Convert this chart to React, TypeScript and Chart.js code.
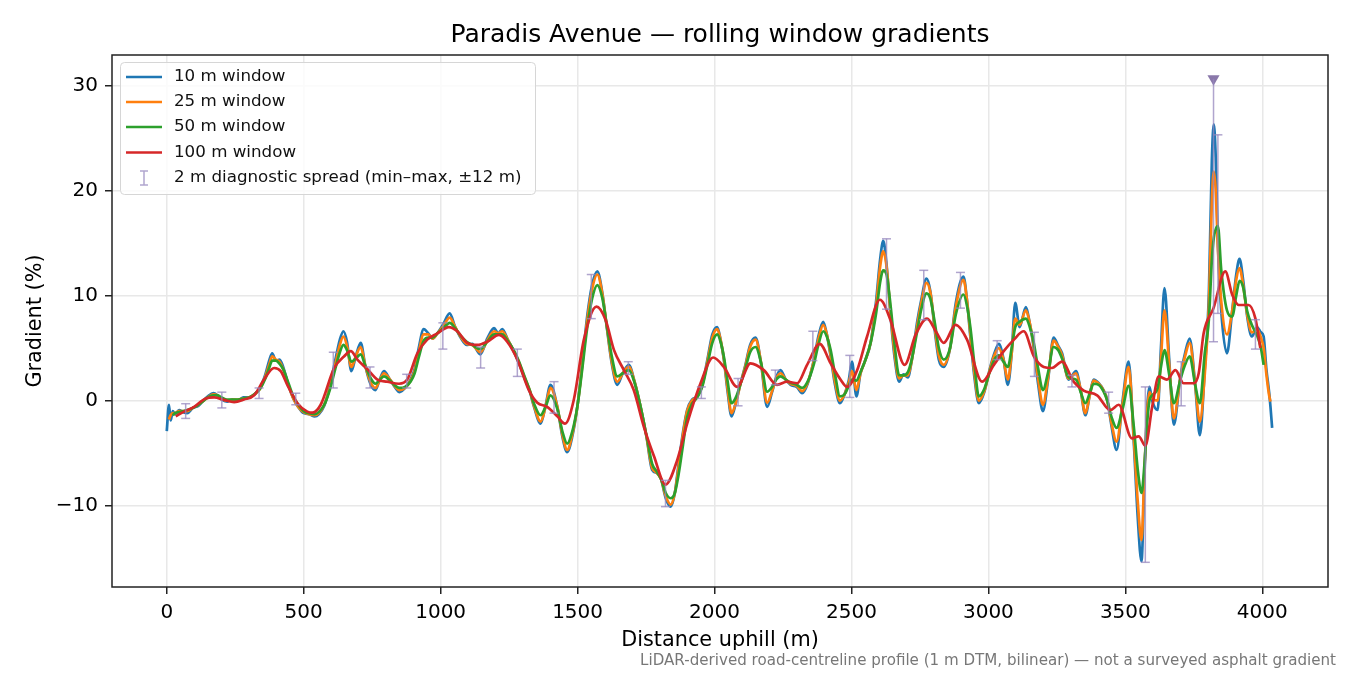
import { useEffect, useRef } from "react";
import { Chart, registerables } from "chart.js";

Chart.register(...registerables);

// distance uphill (m) shared by the 10 / 25 / 50 m windows
const DIST = [
  0, 8, 14, 22, 30, 45, 60, 75, 95, 115,
  130, 150, 170, 185, 200, 220, 240, 260, 280, 300,
  320, 340, 360, 375, 385, 398, 412, 425, 445, 462,
  480, 500, 520, 540, 555, 575, 595, 615, 632, 645,
  658, 674, 690, 708, 725, 745, 762, 775, 793, 815,
  835, 850, 870, 890, 905, 920, 938, 955, 970, 988,
  1010, 1033, 1053, 1075, 1095, 1115, 1145, 1170, 1195, 1210,
  1225, 1245, 1265, 1285, 1305, 1325, 1341, 1365, 1383, 1401,
  1426, 1445, 1462, 1480, 1499, 1517, 1535, 1553, 1572, 1590,
  1608, 1625, 1645, 1665, 1687, 1708, 1730, 1752, 1772, 1790,
  1805, 1822, 1840, 1855, 1869, 1885, 1900, 1918, 1937, 1955,
  1974, 1992, 2010, 2022, 2034, 2048, 2062, 2078, 2095, 2112,
  2130, 2150, 2170, 2192, 2210, 2225, 2241, 2260, 2278, 2300,
  2320, 2340, 2363, 2380, 2397, 2410, 2424, 2440, 2458, 2475,
  2490, 2502, 2518, 2533, 2550, 2570, 2590, 2605, 2616, 2628,
  2643, 2658, 2674, 2690, 2706, 2720, 2740, 2755, 2774, 2788,
  2805, 2819, 2837, 2860, 2881, 2909, 2922, 2934, 2950, 2965,
  2985, 3007, 3022, 3038, 3055, 3071, 3085, 3098, 3114, 3137,
  3150, 3165, 3182, 3199, 3218, 3238, 3255, 3269, 3293, 3320,
  3337, 3354, 3370, 3384, 3403, 3420, 3434, 3450, 3468, 3490,
  3512, 3531, 3545, 3559, 3570, 3580, 3588, 3598, 3618, 3630,
  3643, 3660, 3677, 3701, 3718, 3735, 3755, 3772, 3790, 3805,
  3816, 3823, 3830, 3838, 3850, 3871, 3890, 3905, 3917, 3930,
  3945, 3962, 3981, 3995, 4005, 4015, 4025, 4030, 4036,
];

const W10 = [
  -2.9, -0.4, -1.9, -1.0, -1.3, -0.9, -1.1, -1.2, -0.7, -0.5,
  -0.1, 0.4, 0.7, 0.5, 0.1, -0.1, 0.1, 0.0, 0.3, 0.3,
  0.6, 1.2, 2.5, 3.9, 4.5, 3.8, 3.9, 3.2, 1.4, 0.2,
  -0.6, -1.2, -1.3, -1.5, -1.3, -0.5, 1.3, 3.8, 5.8, 6.6,
  5.6, 2.8, 4.2, 5.5, 3.3, 1.5, 1.0, 1.8, 2.8, 2.0,
  1.2, 0.8, 1.2, 2.0, 3.0, 5.0, 6.8, 6.4, 5.9, 6.4,
  7.3, 8.3, 7.0, 5.9, 5.3, 5.4, 4.4, 5.9, 6.9, 6.4,
  6.8, 5.8, 4.8, 3.6, 2.2, 0.9, -0.6, -2.2, -0.5, 1.5,
  -0.6, -3.5, -4.9, -3.5, -0.6, 3.5, 8.0, 11.0, 12.3, 10.3,
  6.7, 3.5, 1.5, 2.6, 3.4, 1.8, -0.6, -3.5, -6.6, -6.9,
  -7.5, -9.3, -10.1, -8.8, -6.0, -3.0, -0.9, 0.1, 0.4, 1.5,
  3.9, 6.3, 7.0, 5.8, 3.9, 0.8, -1.5, -0.2, 1.65, 3.3,
  5.3, 6.0, 3.5, -0.6, 0.8, 2.2, 2.9, 2.0, 1.5, 1.3,
  0.7, 1.6, 3.9, 6.2, 7.5, 6.3, 4.2, 1.5, -0.25, 0.6,
  1.9, 3.7, 0.4, 2.6, 3.8, 5.5, 9.5, 13.5, 15.2, 13.0,
  8.0, 4.0, 1.8, 2.5, 2.2, 3.8, 7.5, 9.6, 11.6, 10.4,
  6.5, 3.9, 3.2, 5.0, 9.3, 11.8, 9.5, 6.1, 2.0, -0.25,
  0.8, 3.2, 4.5, 5.4, 4.0, 1.5, 4.5, 9.3, 7.0, 8.9,
  7.5, 5.1, 1.5, -1.0, 2.0, 6.0, 5.2, 4.5, 2.0, 2.8,
  1.0, -1.4, 0.5, 2.0, 1.65, 1.0, 0.06, -2.5, -4.7, 0.0,
  3.7, -4.0, -11.0, -15.3, -7.0, -0.6, 1.3, 0.0, -0.9, 5.0,
  10.7, 4.0, -2.3, 2.3, 4.5, 5.9, 1.5, -3.3, 3.0, 10.2,
  22.9, 26.3, 23.2, 15.0, 8.6, 4.5, 8.5, 12.0, 13.5, 11.5,
  8.0, 6.1, 7.0, 6.5, 6.1, 3.0, 0.8, -0.6, -2.6,
];

const W25 = [
  null, -1.8, -1.4, -1.2, -1.2, -1.0, -1.0, -1.0, -0.7, -0.4,
  -0.1, 0.3, 0.6, 0.5, 0.2, 0.0, 0.1, 0.1, 0.2, 0.3,
  0.6, 1.1, 2.3, 3.5, 4.2, 3.9, 3.7, 3.0, 1.4, 0.2,
  -0.6, -1.1, -1.3, -1.4, -1.2, -0.4, 1.2, 3.4, 5.3, 6.1,
  5.2, 3.2, 4.2, 5.1, 3.3, 1.7, 1.2, 1.8, 2.6, 2.0,
  1.3, 1.0, 1.2, 1.9, 2.8, 4.6, 6.3, 6.3, 5.9, 6.4,
  7.1, 7.9, 7.0, 6.0, 5.4, 5.3, 4.6, 5.7, 6.6, 6.4,
  6.6, 5.8, 4.8, 3.7, 2.3, 1.0, -0.5, -2.0, -0.6, 1.2,
  -0.6, -3.3, -4.7, -3.3, -0.6, 3.3, 7.6, 10.6, 12.0, 10.2,
  6.8, 3.7, 1.8, 2.6, 3.2, 1.8, -0.6, -3.5, -6.4, -6.9,
  -7.5, -9.1, -9.9, -8.8, -6.3, -3.2, -1.0, 0.0, 0.4, 1.4,
  3.7, 6.0, 6.8, 5.8, 4.0, 1.1, -1.2, -0.2, 1.6, 3.2,
  5.1, 5.8, 3.6, -0.2, 0.9, 2.1, 2.6, 2.0, 1.6, 1.4,
  0.9, 1.7, 3.8, 5.9, 7.2, 6.3, 4.4, 1.8, 0.0, 0.6,
  1.7, 2.8, 1.0, 2.6, 3.8, 5.5, 9.0, 12.8, 14.2, 12.8,
  8.3, 4.4, 2.1, 2.4, 2.4, 3.8, 7.1, 9.3, 11.2, 10.3,
  6.8, 4.3, 3.4, 5.0, 8.9, 11.5, 9.5, 6.4, 2.4, 0.0,
  0.9, 3.1, 4.3, 5.0, 3.9, 2.0, 4.5, 7.8, 7.2, 8.6,
  7.5, 5.3, 2.0, -0.4, 2.2, 5.7, 5.1, 4.3, 2.1, 2.6,
  1.0, -1.2, 0.5, 1.9, 1.6, 1.0, 0.0, -2.2, -3.9, -0.3,
  3.2, -3.6, -9.5, -13.3, -6.5, -1.0, 0.8, 0.2, 0.0, 4.0,
  8.6, 3.5, -1.7, 2.2, 4.2, 5.5, 1.5, -2.0, 2.5, 9.0,
  19.0, 21.8, 20.0, 14.5, 9.5, 6.3, 8.5, 11.5, 12.6, 11.0,
  8.2, 6.5, 6.8, 6.0, 5.0, 2.5, 0.5, -0.1, null,
];

const W50 = [
  null, null, null, -1.4, -1.2, -1.1, -1.0, -0.9, -0.7, -0.4,
  -0.1, 0.3, 0.5, 0.5, 0.3, 0.1, 0.1, 0.1, 0.2, 0.3,
  0.6, 1.1, 2.1, 3.2, 3.8, 3.8, 3.5, 3.0, 1.6, 0.4,
  -0.4, -1.0, -1.2, -1.3, -1.1, -0.4, 1.0, 3.0, 4.6, 5.3,
  4.8, 3.7, 4.0, 4.4, 3.3, 2.1, 1.6, 1.9, 2.3, 1.9,
  1.4, 1.2, 1.3, 1.8, 2.6, 4.1, 5.7, 6.0, 6.0, 6.4,
  6.9, 7.4, 6.9, 6.1, 5.6, 5.3, 4.9, 5.6, 6.3, 6.3,
  6.3, 5.7, 4.9, 3.8, 2.4, 1.0, -0.3, -1.4, -0.6, 0.5,
  -0.8, -3.0, -4.1, -3.0, -0.6, 3.0, 6.9, 9.7, 11.0, 9.8,
  6.9, 4.2, 2.3, 2.6, 2.9, 1.7, -0.6, -3.4, -6.0, -6.8,
  -7.5, -8.8, -9.3, -8.8, -7.0, -4.2, -1.6, -0.3, 0.3, 1.3,
  3.4, 5.5, 6.3, 5.6, 4.2, 1.8, -0.25, 0.3, 1.6, 3.0,
  4.6, 5.1, 3.6, 0.85, 1.3, 2.0, 2.3, 2.0, 1.7, 1.5,
  1.2, 1.8, 3.5, 5.4, 6.6, 6.1, 4.8, 2.5, 0.4, 0.6,
  1.4, 2.0, 1.9, 2.7, 3.8, 5.5, 8.3, 11.3, 12.4, 12.0,
  9.0, 5.2, 2.4, 2.4, 2.7, 3.9, 6.6, 8.7, 10.2, 9.7,
  7.3, 5.0, 3.9, 5.0, 8.2, 10.1, 9.0, 7.0, 3.2, 0.4,
  1.1, 2.9, 3.9, 4.3, 3.7, 3.2, 5.0, 7.0, 7.5, 7.8,
  7.1, 5.6, 3.0, 1.0, 2.7, 5.1, 4.8, 4.0, 2.2, 2.0,
  0.8, -0.25, 0.7, 1.6, 1.5, 0.9, 0.0, -1.6, -2.6, -0.8,
  1.4, -2.5, -6.5, -8.8, -6.0, -2.0, 0.0, 0.5, 1.2, 3.2,
  4.8, 2.5, -0.25, 2.0, 3.4, 4.2, 1.5, -0.25, 4.5, 7.7,
  13.4, 15.5, 16.3, 16.6, 12.5, 8.6, 8.0, 10.0, 11.4, 10.8,
  8.5, 7.2, 6.2, 5.0, 3.4, null, null, null, null,
];

// the 100 m window is smooth enough for a coarser grid
const DIST_100 = [
  33, 63, 100, 142, 173, 209, 246, 282, 319, 355,
  392, 416, 440, 477, 513, 532, 562, 611, 647, 672,
  696, 732, 769, 805, 848, 878, 915, 951, 988, 1030,
  1061, 1097, 1134, 1170, 1213, 1243, 1280, 1322, 1353, 1389,
  1426, 1454, 1486, 1523, 1569, 1602, 1633, 1669, 1705, 1742,
  1779, 1821, 1864, 1900, 1949, 1995, 2034, 2083, 2131, 2180,
  2228, 2265, 2302, 2338, 2384, 2424, 2460, 2484, 2521, 2557,
  2604, 2642, 2694, 2734, 2776, 2810, 2837, 2880, 2922, 2977,
  3020, 3056, 3093, 3129, 3166, 3202, 3232, 3269, 3311, 3348,
  3397, 3445, 3476, 3524, 3549, 3573, 3598, 3622, 3652, 3683,
  3713, 3750, 3768, 3786, 3822, 3865, 3890, 3914, 3950, 3975, 3993,
];

const W100 = [
  -1.5, -1.05, -0.6, 0.2, 0.3, 0.06, -0.15, 0.1, 0.5, 2.0,
  3.1, 2.8, 1.5, -0.25, -1.05, -1.15, -0.4, 3.1, 4.2, 4.7,
  3.9, 3.0, 2.0, 1.8, 1.6, 2.0, 4.5, 5.8, 6.4, 7.0,
  6.6, 5.5, 5.3, 5.6, 6.25, 5.6, 3.9, 1.0, -0.2, -0.6,
  -1.5, -2.2, 0.06, 5.8, 8.95, 7.7, 4.8, 2.9, 1.0, -2.5,
  -5.3, -8.0, -5.65, -2.2, 1.65, 4.1, 3.2, 1.3, 3.55, 2.9,
  1.5, 1.8, 1.65, 3.4, 5.4, 3.55, 2.0, 1.3, 2.9, 6.1,
  9.6, 7.7, 3.4, 6.25, 7.8, 6.5, 5.5, 7.2, 5.8, 1.8,
  3.4, 4.7, 5.8, 6.6, 4.2, 3.2, 3.1, 3.7, 1.8, 0.95,
  0.5, -0.9, -0.4, -3.6, -3.4, -4.3, -0.6, 2.3, 2.0, 2.9,
  1.65, 1.65, 2.6, 6.4, 8.8, 12.3, 10.1, 9.1, 9.1, 7.8, 5.0,
];

// 2 m diagnostic spread (min–max within ±12 m)
const SPREAD_AT = [
  69, 201, 337, 471, 608, 742, 876, 1008, 1146, 1280,
  1414, 1550, 1685, 1821, 1952, 2086, 2222, 2359, 2494, 2628,
  2764, 2898, 3032, 3168, 3305, 3439, 3573, 3704, 3822, 3838, 3975,
];
const SPREAD_MIN = [
  -1.7, -0.7, 0.2, -0.4, 1.2, 1.2, 1.2, 4.9, 3.1, 2.3,
  -1.2, 7.8, 2.5, -10.1, 0.2, -0.5, 1.5, 3.8, 0.3, 8.7,
  7.7, 8.8, 3.9, 2.3, 1.3, -1.2, -15.4, -0.5, 5.6, 8.3, 4.9,
];
const SPREAD_MAX = [
  -0.3, 0.8, 1.2, 0.7, 4.6, 3.2, 2.5, 7.4, 5.1, 4.9,
  1.8, 12.0, 3.7, -7.6, 1.3, 2.1, 2.9, 6.6, 4.3, 15.4,
  12.4, 12.2, 5.7, 6.5, 2.4, 0.8, 1.3, 3.7, 30.65, 25.3, 7.7,
];
// this spread runs off the top; marked with a triangle instead of a cap
const CLIPPED_AT = 3822;

const X_TICKS = [0, 500, 1000, 1500, 2000, 2500, 3000, 3500, 4000];
const Y_TICKS = [-10, 0, 10, 20, 30];

const SERIES = ["10 m window", "25 m window", "50 m window", "100 m window"];
const COLORS = ["#1f77b4", "#ff7f0e", "#2ca02c", "#d62728"];
const SPREAD_LABEL = "2 m diagnostic spread (min\u2013max, \u00b112 m)";
const SPREAD_COLOR = "rgba(150, 135, 190, 0.75)";
const MARK_COLOR = "#8a78aa";

const FONT = "'DejaVu Sans', sans-serif";
const LINE_W = 2.7;

const minus = (v: number) => String(v).replace("-", "\u2212");

const decorations = {
  id: "decorations",
  afterDraw(chart: Chart) {
    const { ctx, chartArea: a } = chart;
    ctx.save();

    // frame
    ctx.strokeStyle = "#222";
    ctx.lineWidth = 1.5;
    ctx.strokeRect(a.left, a.top, a.right - a.left, a.bottom - a.top);

    // legend
    const lx = 120, ly = 62, lw = 415, lh = 132;
    ctx.beginPath();
    ctx.roundRect(lx + 0.5, ly + 0.5, lw, lh, 4);
    ctx.fillStyle = "rgba(255,255,255,0.8)";
    ctx.fill();
    ctx.strokeStyle = "#d6d6d6";
    ctx.lineWidth = 1;
    ctx.stroke();

    ctx.font = `16.7px ${FONT}`;
    ctx.textBaseline = "middle";
    ctx.textAlign = "left";
    const rows = [77, 102, 127, 152.5, 178];
    SERIES.forEach((name, i) => {
      ctx.strokeStyle = COLORS[i];
      ctx.lineWidth = LINE_W;
      ctx.beginPath();
      ctx.moveTo(126, rows[i]);
      ctx.lineTo(162, rows[i]);
      ctx.stroke();
      ctx.fillStyle = "#111";
      ctx.fillText(name, 174, rows[i]);
    });
    const ey = rows[4];
    ctx.strokeStyle = SPREAD_COLOR;
    ctx.lineWidth = 1.5;
    ctx.beginPath();
    ctx.moveTo(144, ey - 7);
    ctx.lineTo(144, ey + 7);
    ctx.moveTo(140, ey - 7);
    ctx.lineTo(148, ey - 7);
    ctx.moveTo(140, ey + 7);
    ctx.lineTo(148, ey + 7);
    ctx.stroke();
    ctx.fillStyle = "#111";
    ctx.fillText(SPREAD_LABEL, 174, ey);

    // title, axis labels, note
    const cx = (a.left + a.right) / 2;
    ctx.textBaseline = "alphabetic";
    ctx.textAlign = "center";
    ctx.fillStyle = "#000";
    ctx.font = `25px ${FONT}`;
    ctx.fillText("Paradis Avenue \u2014 rolling window gradients", cx, 42);
    ctx.font = `20.8px ${FONT}`;
    ctx.fillText("Distance uphill (m)", cx, 646);
    ctx.save();
    ctx.translate(41, (a.top + a.bottom) / 2);
    ctx.rotate(-Math.PI / 2);
    ctx.fillText("Gradient (%)", 0, 0);
    ctx.restore();

    ctx.textAlign = "right";
    ctx.fillStyle = "#777";
    ctx.font = `15.1px ${FONT}`;
    ctx.fillText(
      "LiDAR-derived road-centreline profile (1 m DTM, bilinear) \u2014 not a surveyed asphalt gradient",
      1336,
      665
    );
    ctx.restore();
  },
};

export default function App() {
  const canvasRef = useRef<HTMLCanvasElement>(null);
  const chartRef = useRef<Chart | null>(null);

  useEffect(() => {
    document.body.style.margin = "0";
    const ctx = canvasRef.current?.getContext("2d");
    if (!ctx) return;
    chartRef.current?.destroy();

    Chart.defaults.font.family = FONT;
    Chart.defaults.color = "#000";

    const pts = (xs: number[], ys: (number | null)[]) =>
      xs.map((x, i) => ({ x, y: ys[i] }));

    const spread: { x: number; y: number | null }[] = [];
    SPREAD_AT.forEach((x, i) => {
      spread.push({ x, y: SPREAD_MIN[i] }, { x, y: SPREAD_MAX[i] }, { x, y: null });
    });

    const lineStyle = (i: number) => ({
      borderColor: COLORS[i],
      backgroundColor: COLORS[i],
      borderWidth: LINE_W,
      pointRadius: 0,
      cubicInterpolationMode: "monotone" as const,
      fill: false,
    });

    chartRef.current = new Chart(ctx, {
      type: "line",
      data: {
        datasets: [
          {
            label: SPREAD_LABEL,
            data: spread,
            borderColor: SPREAD_COLOR,
            borderWidth: 1.5,
            tension: 0,
            pointStyle: "line",
            pointBorderColor: SPREAD_COLOR,
            pointBorderWidth: 1.5,
            pointRadius: (c: any) => {
              const j = Math.floor(c.dataIndex / 3);
              const k = c.dataIndex % 3;
              if (k === 2) return 0;
              if (k === 1 && SPREAD_AT[j] === CLIPPED_AT) return 0;
              return 4.5;
            },
            order: 0,
          },
          {
            label: "clipped spread",
            data: [{ x: CLIPPED_AT, y: SPREAD_MAX[SPREAD_AT.indexOf(CLIPPED_AT)] }],
            showLine: false,
            pointStyle: "triangle",
            rotation: 180,
            pointRadius: 7,
            pointBackgroundColor: MARK_COLOR,
            pointBorderColor: MARK_COLOR,
            pointBorderWidth: 0,
            order: 0,
          },
          { label: SERIES[3], data: pts(DIST_100, W100), ...lineStyle(3), order: 1 },
          { label: SERIES[2], data: pts(DIST, W50), ...lineStyle(2), order: 2 },
          { label: SERIES[1], data: pts(DIST, W25), ...lineStyle(1), order: 3 },
          { label: SERIES[0], data: pts(DIST, W10), ...lineStyle(0), order: 4 },
        ],
      },
      options: {
        responsive: false,
        animation: false,
        events: [],
        spanGaps: false,
        layout: { padding: { left: 0, top: 55, right: 22, bottom: 0 } },
        plugins: {
          legend: { display: false },
          title: { display: false },
          tooltip: { enabled: false },
        },
        scales: {
          x: {
            type: "linear",
            min: -200,
            max: 4240,
            afterFit: (s: any) => {
              s.height = 88;
            },
            afterBuildTicks: (s: any) => {
              s.ticks = X_TICKS.map((value) => ({ value }));
            },
            border: { display: false },
            grid: {
              color: "#e8e8e8",
              lineWidth: 1.5,
              drawTicks: true,
              tickLength: 7,
              tickColor: "#222",
              tickWidth: 1.5,
            },
            ticks: {
              padding: 7,
              maxRotation: 0,
              font: { size: 20 },
              color: "#000",
              callback: (v: any) => minus(Number(v)),
            },
          },
          y: {
            type: "linear",
            min: -17.75,
            max: 32.9,
            afterFit: (s: any) => {
              s.width = 112;
            },
            afterBuildTicks: (s: any) => {
              s.ticks = Y_TICKS.map((value) => ({ value }));
            },
            border: { display: false },
            grid: {
              color: "#e8e8e8",
              lineWidth: 1.5,
              drawTicks: true,
              tickLength: 7,
              tickColor: "#222",
              tickWidth: 1.5,
            },
            ticks: {
              padding: 7,
              font: { size: 20 },
              color: "#000",
              callback: (v: any) => minus(Number(v)),
            },
          },
        },
      },
      plugins: [decorations],
    });

    return () => {
      chartRef.current?.destroy();
      chartRef.current = null;
    };
  }, []);

  return (
    <div style={{ width: 1350, height: 675, background: "#fff" }}>
      <canvas ref={canvasRef} width={1350} height={675} style={{ display: "block" }} />
    </div>
  );
}
